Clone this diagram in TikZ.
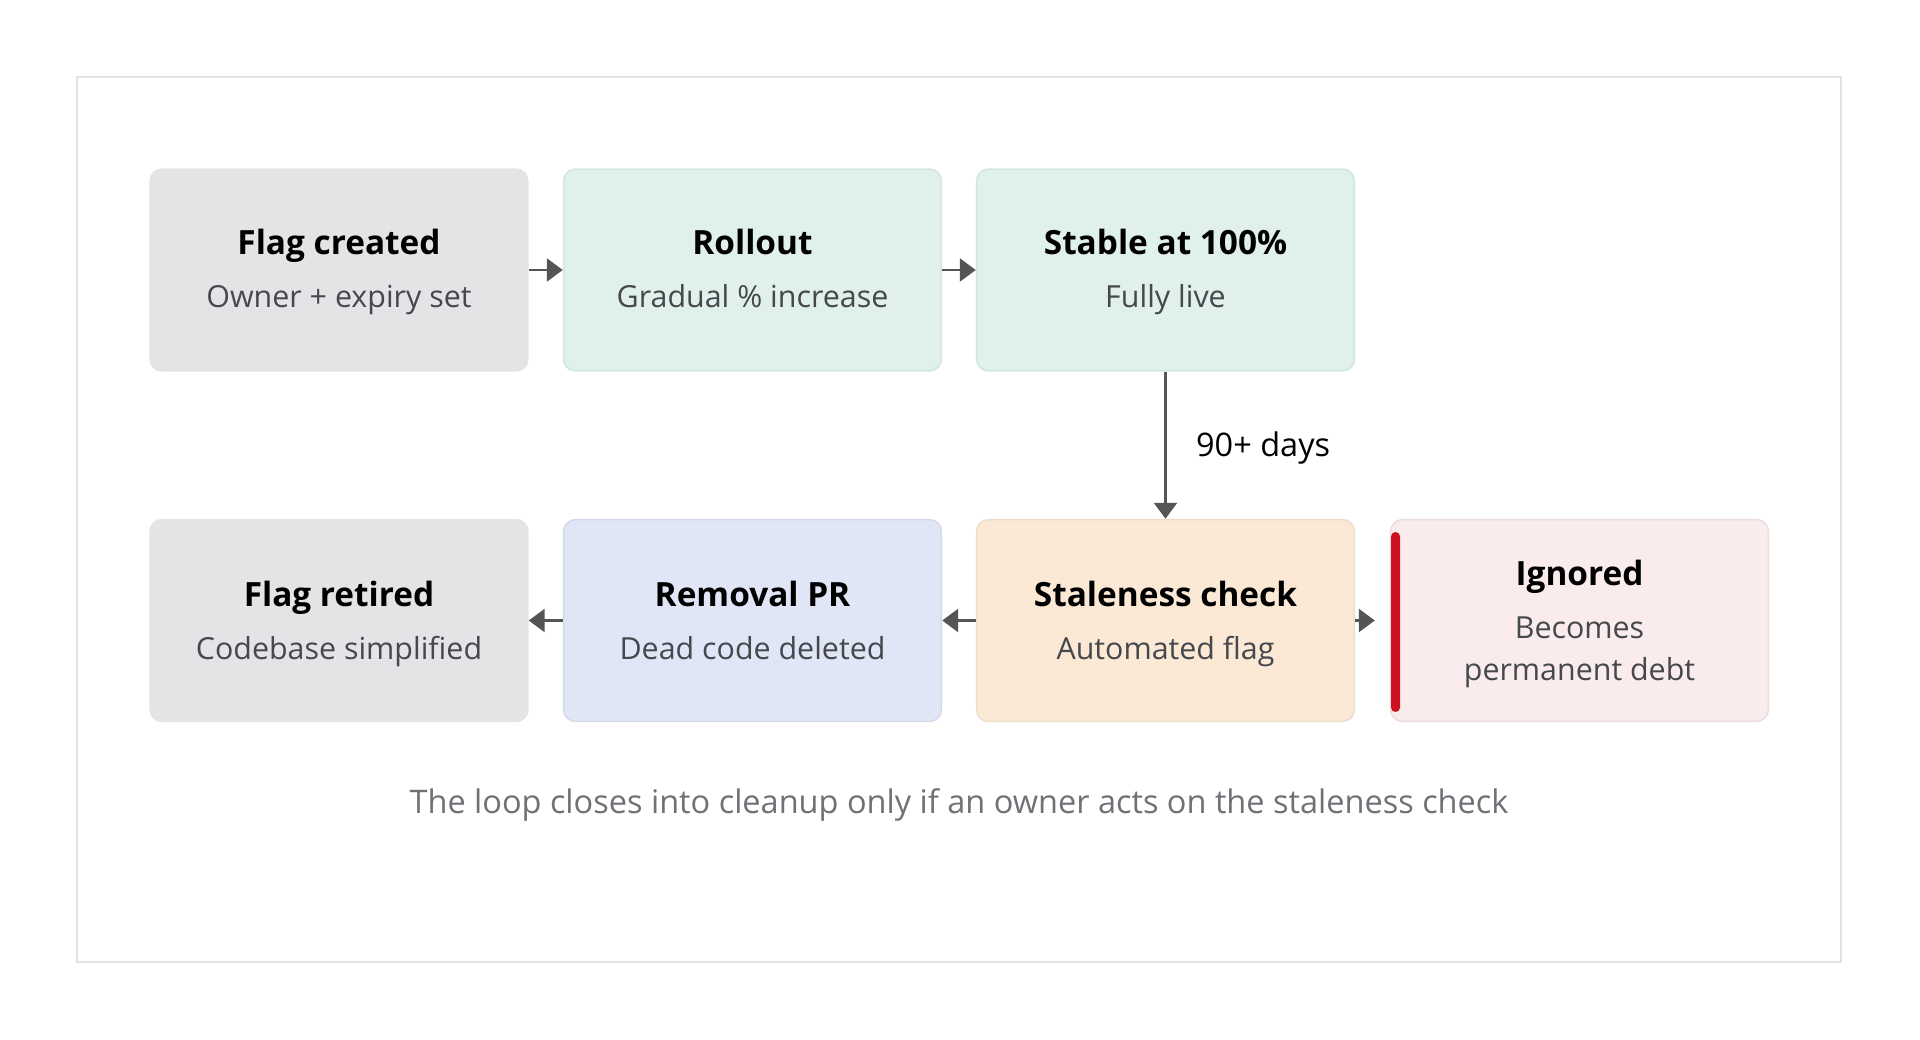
\documentclass[tikz,border=0pt]{standalone}
\usepackage{fontspec}
\setmainfont{Open Sans}
\usetikzlibrary{arrows.meta}
\definecolor{framegray}{HTML}{E3E3E3}
\definecolor{boxgray}{HTML}{E4E4E6}
\definecolor{mint}{HTML}{DFF1EA}
\definecolor{mintline}{HTML}{D3E6DE}
\definecolor{lavender}{HTML}{E0E6F6}
\definecolor{lavenderline}{HTML}{D4DAEA}
\definecolor{peach}{HTML}{FBE9D5}
\definecolor{peachline}{HTML}{ECDDC9}
\definecolor{blush}{HTML}{FAECEC}
\definecolor{blushline}{HTML}{EBDDDD}
\definecolor{flagred}{HTML}{CC1020}
\definecolor{arrowgray}{HTML}{555555}
\definecolor{subgray}{HTML}{45484D}
\definecolor{notegray}{HTML}{6E7176}
\begin{document}
\begin{tikzpicture}[x=0.02cm, y=-0.02cm]
 \tikzset{box/.style={rectangle, rounded corners=0.24cm, minimum width=7.56cm, minimum height=4.04cm, line width=0.03cm},
  heading/.style={anchor=base, text=black, font=\fontsize{19}{23}\selectfont\bfseries},
  detail/.style={anchor=base, text=subgray, font=\fontsize{17.3}{21}\selectfont},
  directed/.style={-{Triangle[length=0.32cm,width=0.46cm]}, line width=0.05cm, color=arrowgray}}
  \useasboundingbox (0,0) rectangle (1920,1040);
  \node[draw=framegray, line width=0.04cm, minimum width=35.28cm, minimum height=17.7cm] (panel) at (959,519.5) {};
  % top row
  \node[box, fill=boxgray, draw=boxgray] (created) at (339,270) {};
  \node[box, fill=mint, draw=mintline] (rollout) at (752.5,270) {};
  \node[box, fill=mint, draw=mintline] (stable) at (1165.5,270) {};
  \node[heading] (createdT) at (339,255) {Flag created};
  \node[detail] (createdS) at (339,308) {Owner + expiry set};
  \node[heading] (rolloutT) at (752.5,255) {Rollout};
  \node[detail] (rolloutS) at (752.5,308) {Gradual \% increase};
  \node[heading] (stableT) at (1165.5,255) {Stable at 100\%};
  \node[detail] (stableS) at (1165.5,308) {Fully live};
  % bottom row
  \node[box, fill=boxgray, draw=boxgray] (retired) at (339,620.5) {};
  \node[box, fill=lavender, draw=lavenderline] (removal) at (752.5,620.5) {};
  \node[box, fill=peach, draw=peachline] (stale) at (1165.5,620.5) {};
  \node[box, fill=blush, draw=blushline] (ignored) at (1579.5,620.5) {};
  \fill[flagred, rounded corners=0.09cm] (1391,532) rectangle (1400,712);
  \node[heading] (retiredT) at (339,606) {Flag retired};
  \node[detail] (retiredS) at (339,659) {Codebase simplified};
  \node[heading] (removalT) at (752.5,606) {Removal PR};
  \node[detail] (removalS) at (752.5,659) {Dead code deleted};
  \node[heading] (staleT) at (1165.5,606) {Staleness check};
  \node[detail] (staleS) at (1165.5,659) {Automated flag};
  \node[heading] (ignoredT) at (1579.5,585) {Ignored};
  \node[detail] (ignoredS1) at (1579.5,638) {Becomes};
  \node[detail] (ignoredS2) at (1579.5,680) {permanent debt};
  % arrows
  \draw[directed] (created) -- (rollout);
  \draw[directed] (rollout) -- (stable);
  \draw[directed] (stable) -- node[anchor=base west, xshift=0.47cm, yshift=-0.23cm, text=black, font=\fontsize{18.5}{22}\selectfont] (wait) {90+ days} (stale);
  \draw[directed] (stale) -- (removal);
  \draw[directed] (removal) -- (retired);
  \draw[directed, shorten >=0.3cm] (stale) -- (ignored);
  \node[anchor=base, text=notegray, font=\fontsize{18.5}{22}\selectfont] (note) at (959,813) {The loop closes into cleanup only if an owner acts on the staleness check};
\end{tikzpicture}
\end{document}
